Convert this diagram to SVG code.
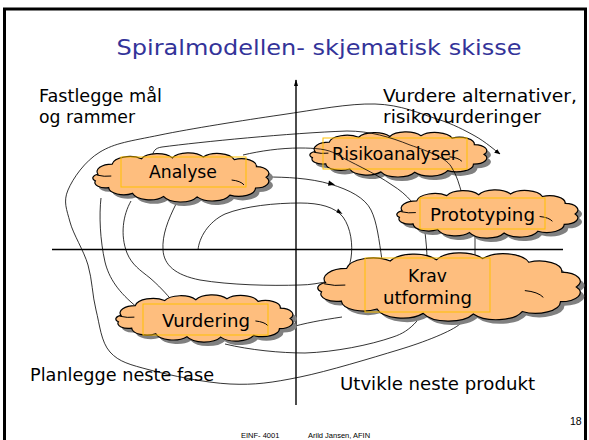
<svg xmlns="http://www.w3.org/2000/svg" xmlns:xlink="http://www.w3.org/1999/xlink" width="589" height="440" viewBox="0 0 589 440">
<defs>
<style>
.t{font-family:"DejaVu Sans","Noto Sans",sans-serif;font-size:17.5px;fill:#000}
.title{font-family:"DejaVu Sans","Noto Sans",sans-serif;font-size:22px;fill:#333399}
.small{font-family:"Liberation Sans",Arial,sans-serif;fill:#000}
.c{fill:#FEBE7E;stroke:#000;stroke-width:1.2}
.sh{fill:#808080;stroke:none}
.in{fill:none;stroke:#000;stroke-width:1}
.box{fill:none;stroke:#FFC000;stroke-width:1}
.sp{fill:none;stroke:#000;stroke-width:0.8}
.ax{fill:none;stroke:#000;stroke-width:1.4}
</style>
<path id="cl" vector-effect="non-scaling-stroke" d="M6,45 A17,17 0 0 1 22,22 A20,20 0 0 1 55,10 A20,20 0 0 1 90,8 A20,20 0 0 1 125,6 A20,20 0 0 1 160,12 A17,17 0 0 1 185,28 A15,15 0 0 1 196,52 A15,15 0 0 1 184,76 A19,19 0 0 1 155,92 A21,21 0 0 1 118,96 A21,21 0 0 1 80,95 A20,20 0 0 1 45,88 A17,17 0 0 1 18,75 A12,12 0 0 1 3,60 A9,9 0 0 1 6,45 Z"/>
<path id="ci" vector-effect="non-scaling-stroke" d="M5,47 Q13,51 21,49 M157,58 Q167,60 171,69"/>
<marker id="ah" viewBox="0 0 10 10" refX="9" refY="5" markerWidth="6" markerHeight="6" orient="auto" markerUnits="userSpaceOnUse">
<path d="M0,1 L10,5 L0,9 Z" fill="#000"/>
</marker>
<marker id="ah2" viewBox="0 0 10 10" refX="9" refY="5" markerWidth="7" markerHeight="7" orient="auto" markerUnits="userSpaceOnUse">
<path d="M0,2 L10,5 L0,8 Z" fill="#000"/>
</marker>
</defs>
<rect x="0" y="0" width="589" height="440" fill="#fff"/>
<rect x="4.5" y="9" width="581" height="450" fill="none" stroke="#000" stroke-width="3"/>

<text class="title" x="116.5" y="55" textLength="405" lengthAdjust="spacingAndGlyphs">Spiralmodellen- skjematisk skisse</text>

<g id="labels">
<text class="t" x="39" y="102" textLength="123" lengthAdjust="spacingAndGlyphs">Fastlegge mål</text>
<text class="t" x="39" y="123" textLength="96" lengthAdjust="spacingAndGlyphs">og rammer</text>
<text class="t" x="383" y="102" textLength="194" lengthAdjust="spacingAndGlyphs">Vurdere alternativer,</text>
<text class="t" x="383" y="123" textLength="158" lengthAdjust="spacingAndGlyphs">risikovurderinger</text>
<text class="t" x="30" y="381" textLength="184" lengthAdjust="spacingAndGlyphs">Planlegge neste fase</text>
<text class="t" x="340" y="390" textLength="195" lengthAdjust="spacingAndGlyphs">Utvikle neste produkt</text>
</g>

<g id="axes">
<line class="ax" x1="52" y1="249.5" x2="563" y2="249.5"/>
<line class="ax" x1="296" y1="405" x2="296" y2="80" marker-end="url(#ah2)"/>
</g>

<g id="node-risikoanalyser">
<use xlink:href="#cl" href="#cl" class="sh" transform="translate(313.7,137.2) scale(0.890,0.4072)"/>
<use xlink:href="#cl" href="#cl" class="c" transform="translate(309.7,133.2) scale(0.890,0.4072)"/>
<use xlink:href="#ci" href="#ci" class="in" transform="translate(309.7,133.2) scale(0.890,0.4072)"/>
<rect class="box" x="323" y="138" width="144" height="31"/>
<text class="t" x="332" y="160" textLength="126" lengthAdjust="spacingAndGlyphs">Risikoanalyser</text>
</g>

<g id="connectors">
<path class="sp" marker-end="url(#ah)" d="M460,324 C452,331 425,342 398,350 C372.2,357.8 328,371.3 300,377 C272,382.7 255,385.2 230,384 C205,382.8 170,375.3 150,370 C130,364.7 119,362 110,352 C101,342 99.7,324.5 96,310 C92.3,295.5 92.3,279.7 88,265 C83.7,250.3 73.3,234.5 70,222 C66.7,209.5 63,201.7 68,190 C73,178.3 84.7,161.2 100,152 C115.3,142.8 130,141.2 160,135 C190,128.8 244.2,120.2 280,115 C315.8,109.8 348.8,103.3 375,104 C401.2,104.7 420.3,113.7 437,119 C453.7,124.3 464.5,130.2 475,136 C485.5,141.8 495.8,151 500,154"/>
<path class="sp" d="M152,158 C153,151 155,148 162,147 C200,142 290,133 347,131 C370,131 390,137 410,145 C430,152 447,158 452,168 C457,176 459,184 462,194"/>
<path class="sp" d="M243,155 C260,151 280,148 300,148 C315,148 328,149 336,154 C350,162 375,173 392,185 C400,190 406,195 412,202"/>
<path class="sp" d="M266,177 C285,177 310,178 330,184 C350,190 365,198 371,210 C377,222 379,240 382,260"/>
<path class="sp" d="M198,250 C199,238 208,222 225,214 C245,206 275,203 300,203 C320,203 335,207 343,217 C351,228 353,245 351,258 C350,264 348,270 345,276"/>
<path class="sp" d="M176,204 C168,220 162,235 163,250 C164,265 175,275 200,280 C230,285 270,286 300,285 C310,285 320,283 330,281"/>
<path class="sp" d="M101,198 C99,215 100,240 105,262 C109,278 118,292 138,308"/>
<path class="sp" d="M131,201 C123,215 120,235 127,253 C132,265 140,270 150,278 C158,285 165,292 174,303"/>
<path class="sp" d="M288,328 C305,323 322,320 342,317"/>
<path class="sp" d="M225,344 C250,350 280,353 305,353 C335,352 370,345 393,337 C402,334 409,330 417,321"/>
<path class="sp" d="M425,232 C426,242 427,250 427,260"/>
<path class="sp" d="M475,234 L475,260"/>
<path d="M329,180.5 L335,184.8 L328,185.8 Z" fill="#000"/>
<path d="M338,208.5 L342.5,214 L336.5,212.5 Z" fill="#000"/>
</g>

<g id="node-analyse">
<use xlink:href="#cl" href="#cl" class="sh" transform="translate(96.7,158.3) scale(0.885,0.4434)"/>
<use xlink:href="#cl" href="#cl" class="c" transform="translate(92.7,154.3) scale(0.885,0.4434)"/>
<use xlink:href="#ci" href="#ci" class="in" transform="translate(92.7,154.3) scale(0.885,0.4434)"/>
<rect class="box" x="121" y="157" width="125" height="30"/>
<text class="t" x="149" y="178" textLength="68" lengthAdjust="spacingAndGlyphs">Analyse</text>
</g>

<g id="node-prototyping">
<use xlink:href="#cl" href="#cl" class="sh" transform="translate(400.7,195.3) scale(0.9105,0.4344)"/>
<use xlink:href="#cl" href="#cl" class="c" transform="translate(396.7,191.3) scale(0.9105,0.4344)"/>
<use xlink:href="#ci" href="#ci" class="in" transform="translate(396.7,191.3) scale(0.9105,0.4344)"/>
<rect class="box" x="420" y="198" width="125" height="31"/>
<text class="t" x="430" y="221" textLength="105" lengthAdjust="spacingAndGlyphs">Prototyping</text>
</g>

<g id="node-krav">
<use xlink:href="#cl" href="#cl" class="sh" transform="translate(321.6,258.9) scale(1.32,0.6154)"/>
<use xlink:href="#cl" href="#cl" class="c" transform="translate(317.6,254.9) scale(1.32,0.6154)"/>
<use xlink:href="#ci" href="#ci" class="in" transform="translate(317.6,254.9) scale(1.32,0.6154)"/>
<rect class="box" x="365" y="258" width="125" height="54"/>
<text class="t" x="408" y="282" textLength="39" lengthAdjust="spacingAndGlyphs">Krav</text>
<text class="t" x="383" y="304" textLength="89" lengthAdjust="spacingAndGlyphs">utforming</text>
</g>

<g id="node-vurdering">
<use xlink:href="#cl" href="#cl" class="sh" transform="translate(119.7,300.3) scale(0.890,0.4253)"/>
<use xlink:href="#cl" href="#cl" class="c" transform="translate(115.7,296.3) scale(0.890,0.4253)"/>
<use xlink:href="#ci" href="#ci" class="in" transform="translate(115.7,296.3) scale(0.890,0.4253)"/>
<rect class="box" x="143" y="304" width="125" height="31"/>
<text class="t" x="162" y="327" textLength="88" lengthAdjust="spacingAndGlyphs">Vurdering</text>
</g>

<g id="footer">
<text class="small" x="570" y="425" font-size="10.5">18</text>
<text class="small" x="241" y="437.5" font-size="7.5">EINF- 4001</text>
<text class="small" x="308" y="437.5" font-size="7.5">Arild Jansen, AFIN</text>
</g>
</svg>
